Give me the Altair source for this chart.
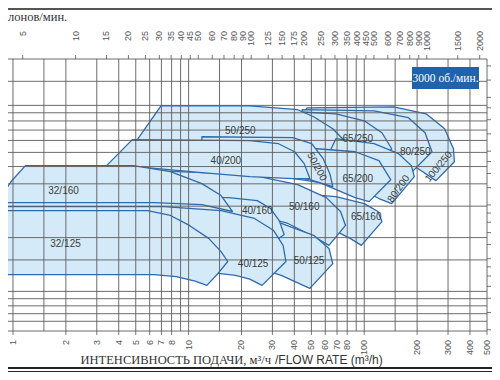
import altair as alt
import pandas as pd

# ---------------- axis values ----------------
FLOW_LABELS = [1, 2, 3, 4, 5, 6, 7, 8, 10, 20, 30, 40, 50, 60, 70, 80, 100, 200, 300, 400, 500]
FLOW_GRID = [1, 1.5, 2, 3, 4, 5, 6, 7, 8, 9, 10, 15, 20, 30, 40, 50, 60, 70, 80, 90, 100, 150, 200, 300, 400, 500]
GPM_LABELS = [5, 10, 15, 20, 25, 30, 35, 40, 45, 50, 60, 70, 80, 90, 100, 125, 150, 175, 200, 250,
              300, 350, 400, 450, 500, 600, 700, 800, 900, 1000, 1500, 2000]
HEAD_GRID = [6, 6.8, 7.5, 8.3, 9.1, 10, 15, 20, 30, 40, 50, 60, 70, 80, 90, 100, 110, 150, 200]
FEET_TICKS = [20, 25, 30, 35, 40, 45, 50, 60, 70, 80, 90, 100, 125, 150, 175, 200, 250, 300, 350, 400, 500, 600]
GPM_PER_M3H = 4.403
M_PER_FT = 0.3048

# ---------------- pump regions (flow m3/h, head m) ----------------
Q = {
    "100/250": [41.8, 47.3, 147.1, 225, 287, 322, 326, 256, 203, 156.8, 113.7, 69.0],
    "80/250": [41.8, 44.4, 113.7, 178.4, 222, 243, 187.8, 147.1, 106.6, 69.0],
    "65/250": [39.1, 41.8, 69.0, 100, 126.1, 143.3, 116.7, 88.6, 60.8],
    "50/250": [4.38, 5.15, 6.96, 22.3, 41.8, 51.5, 66.2, 80.1, 67.0, 41.8, 22.3, 5.15],
    "80/200": [60.8, 69.0, 113.7, 156.8, 185.4, 192.8, 143.3, 121.3, 94.0, 69.0],
    "65/200": [22.3, 25.3, 53.7, 88.6, 121.3, 141.5, 106.6, 88.6, 55.8, 33.7],
    "50/200": [11.9, 11.9, 39.1, 50.2, 58.4, 63.7, 66.2, 49.0, 39.1],
    "65/160": [41.8, 41.8, 69.0, 100, 119.7, 126.1, 96.3, 83.1, 60.8],
    "50/160": [6.38, 6.38, 22.3, 41.8, 60.8, 73.3, 78.2, 63.0, 53.7, 36.8, 22.3, 11.9],
    "40/200": [3.41, 4.78, 22.3, 32.5, 40.1, 45.5, 49.0, 39.1, 22.3, 11.9, 4.96],
    "50/125": [19.7, 19.7, 33.7, 51.5, 63.0, 66.2, 49.0, 33.7, 22.3],
    "40/160": [0.916, 0.916, 16.9, 24.6, 29.3, 32.8, 35.0, 26.2, 20.9, 6.38],
    "40/125": [0.916, 0.916, 7.23, 15.3, 23.7, 30.5, 34.5, 35.8, 26.2, 22.3, 18.5, 14.7],
    "32/160": [0.916, 0.975, 1.177, 4.84, 7.88, 11.9, 15.3, 17.8, 11.9, 6.38, 0.916],
    "32/125": [0.916, 5.84, 7.88, 10.1, 13.0, 15.3, 16.7, 14.7, 12.7, 10.9, 8.5, 6.38, 0.916],
}
H = {
    "100/250": [86.8, 106.6, 108.0, 98.7, 81.4, 62.9, 53.2, 41.7, 48.6, 55.3, 62.9, 76.3],
    "80/250": [83.5, 104.0, 102.6, 93.8, 77.3, 60.5, 46.8, 51.9, 59.0, 71.6],
    "65/250": [81.4, 101.3, 98.7, 90.2, 77.3, 62.9, 48.6, 55.3, 62.9],
    "50/250": [55.3, 71.6, 109.4, 109.4, 104.0, 95.0, 81.4, 67.1, 56.8, 56.8, 59.0, 62.9],
    "80/200": [55.3, 71.6, 67.1, 59.0, 50.6, 43.9, 31.0, 33.1, 37.6, 45.6],
    "65/200": [45.0, 62.9, 62.9, 60.5, 53.9, 42.2, 31.8, 33.5, 40.6, 43.9],
    "50/200": [45.0, 73.4, 72.5, 67.1, 55.3, 45.6, 38.6, 42.2, 43.9],
    "65/160": [25.6, 35.3, 33.9, 31.0, 28.0, 24.6, 18.1, 19.8, 23.1],
    "50/160": [28.3, 47.4, 45.0, 39.6, 33.5, 28.0, 23.4, 18.1, 19.8, 24.0, 27.3, 28.3],
    "40/200": [50.6, 70.7, 69.8, 67.1, 60.5, 51.9, 42.8, 42.8, 43.9, 46.2, 49.9],
    "50/125": [17.4, 24.6, 24.0, 20.6, 17.4, 14.3, 10.4, 12.3, 14.0],
    "40/160": [18.5, 33.5, 33.5, 32.2, 29.1, 24.9, 20.8, 16.9, 18.5, 18.5],
    "40/125": [13.4, 29.8, 29.8, 28.3, 25.6, 21.9, 18.1, 14.7, 10.8, 11.7, 12.3, 12.6],
    "32/160": [37.6, 41.2, 50.6, 50.6, 46.8, 40.1, 34.4, 28.0, 30.6, 31.4, 31.4],
    "32/125": [28.3, 28.3, 26.6, 23.4, 19.8, 16.7, 14.7, 12.6, 10.8, 11.4, 12.1, 12.4, 12.4],
}
# back to front
DRAW_ORDER = ["100/250", "80/250", "65/250", "50/250", "80/200", "65/200", "50/200", "65/160",
              "50/160", "40/200", "50/125", "40/160", "40/125", "32/160", "32/125"]

LABEL_TEXT = ["32/160", "32/125", "40/200", "50/250", "65/250", "80/250", "100/250", "50/200",
              "65/200", "80/200", "65/160", "50/160", "40/160", "40/125", "50/125"]
LABEL_Q = [1.94, 1.99, 16.3, 19.7, 91.9, 195.3, 265, 53.7, 91.9, 157, 102.6, 45.5, 24.6, 23.3, 48.5]
LABEL_H = [36.7, 18.3, 53.9, 79.3, 71.6, 60.5, 49.9, 49.9, 42.8, 37.6, 26.2, 29.8, 28.3, 14.3, 14.7]
LABEL_ANGLE = [0, 0, 0, 0, 0, 0, 310, 62, 0, 305, 0, 0, 0, 0, 0]

# ---------------- styling ----------------
PW, PH = 479, 272
FILL = "#d4eaf8"
STROKE = "#2d6bb0"
GRID = "#5c5c5c"
AX = "#555"
SANS = "Liberation Sans"
SERIF = "Liberation Serif"

xs = alt.Scale(type="log", domain=[0.9366, 500], nice=False)
ys = alt.Scale(type="log", domain=[6, 200], nice=False)
X = lambda f: alt.X(f, scale=xs, axis=None)
Y = lambda f: alt.Y(f, scale=ys, axis=None)

rows = []
for name in DRAW_ORDER:
    qs, hs = Q[name], H[name]
    pts = list(zip(qs, hs)) + [(qs[0], hs[0])]
    for i, (q, h) in enumerate(pts):
        rows.append({"name": name, "i": i, "q": q, "h": h})
shape_df = pd.DataFrame(rows)

layers = []
for name in DRAW_ORDER:
    layers.append(
        alt.Chart(shape_df)
        .transform_filter(alt.datum.name == name)
        .mark_line(fill=FILL, stroke=STROKE, strokeWidth=1.3, clip=True, strokeJoin="round")
        .encode(x=X("q:Q"), y=Y("h:Q"), order=alt.Order("i:Q"))
    )

vgrid = alt.Chart(pd.DataFrame({"q": FLOW_GRID})).mark_rule(color=GRID, strokeWidth=0.9).encode(
    x=X("q:Q"), y=alt.value(0), y2=alt.value(PH)
)
hgrid = alt.Chart(pd.DataFrame({"h": HEAD_GRID})).mark_rule(color=GRID, strokeWidth=0.9).encode(
    y=Y("h:Q"), x=alt.value(0), x2=alt.value(PW)
)

flow_df = pd.DataFrame({"q": FLOW_LABELS})
bot_ticks = alt.Chart(flow_df).mark_rule(color=AX, strokeWidth=0.8).encode(
    x=X("q:Q"), y=alt.value(PH), y2=alt.value(PH + 4)
)
bot_labels = alt.Chart(flow_df).mark_text(
    angle=270, align="right", baseline="middle", font=SANS, fontSize=9, color=AX
).encode(x=X("q:Q"), y=alt.value(PH + 9), text="q:N")

gpm_df = pd.DataFrame({"gpm": GPM_LABELS})
top_ticks = alt.Chart(gpm_df).transform_calculate(q=f"datum.gpm / {GPM_PER_M3H}").mark_rule(
    color=AX, strokeWidth=0.8
).encode(x=X("q:Q"), y=alt.value(-4), y2=alt.value(0))
top_labels = alt.Chart(gpm_df).transform_calculate(q=f"datum.gpm / {GPM_PER_M3H}").mark_text(
    angle=270, align="right", baseline="middle", font=SANS, fontSize=9, color=AX
).encode(x=X("q:Q"), y=alt.value(-28), text="gpm:N")

ft_df = pd.DataFrame({"ft": FEET_TICKS})
right_ticks = alt.Chart(ft_df).transform_calculate(h=f"datum.ft * {M_PER_FT}").mark_rule(
    color=AX, strokeWidth=0.8
).encode(y=Y("h:Q"), x=alt.value(PW), x2=alt.value(PW + 4))

lab_df = pd.DataFrame({"t": LABEL_TEXT, "q": LABEL_Q, "h": LABEL_H, "a": LABEL_ANGLE})
labels = alt.Chart(lab_df).mark_text(font=SANS, fontSize=10, color="#3a3a3a").encode(
    x=X("q:Q"), y=Y("h:Q"), text="t:N", angle=alt.Angle("a:Q", scale=None)
)

one = pd.DataFrame({"t": ["x"]})
box = alt.Chart(one).mark_rect(color="#1f62ad").encode(
    x=alt.value(404), x2=alt.value(471), y=alt.value(8), y2=alt.value(30)
)
box_text = alt.Chart(pd.DataFrame({"t": ["3000 об./мин."]})).mark_text(
    font=SERIF, fontSize=11.5, color="white"
).encode(x=alt.value(437.5), y=alt.value(19.5), text="t:N")

top_title = alt.Chart(pd.DataFrame({"t": ["лонов/мин."]})).mark_text(
    font=SERIF, fontSize=12.5, color="#333", align="left", baseline="middle"
).encode(x=alt.value(0), y=alt.value(-42), text="t:N")

xt1 = alt.Chart(pd.DataFrame({"t": ["ИНТЕНСИВНОСТЬ ПОДАЧИ, м³/ч"]})).mark_text(
    font=SERIF, fontSize=12.5, color="#333", align="right", baseline="alphabetic"
).encode(x=alt.value(263), y=alt.value(305), text="t:N")
xt2 = alt.Chart(pd.DataFrame({"t": ["/FLOW RATE (m³/h)"]})).mark_text(
    font=SANS, fontSize=12, color="#333", align="left", baseline="alphabetic"
).encode(x=alt.value(267), y=alt.value(305), text="t:N")

top_border = alt.Chart(one).mark_rule(color="#555", strokeWidth=2).encode(
    x=alt.value(-10), x2=alt.value(PW + 10), y=alt.value(-50)
)
bot_border1 = alt.Chart(one).mark_rule(color="#222", strokeWidth=2).encode(
    x=alt.value(-10), x2=alt.value(PW + 10), y=alt.value(309)
)
bot_border2 = alt.Chart(one).mark_rule(color="#222", strokeWidth=1).encode(
    x=alt.value(-10), x2=alt.value(PW + 10), y=alt.value(312.5)
)

chart = alt.layer(
    *layers, vgrid, hgrid, bot_ticks, bot_labels, top_ticks, top_labels, right_ticks, labels,
    box, box_text, top_title, xt1, xt2, top_border, bot_border1, bot_border2,
).properties(
    width=PW, height=PH,
    padding={"left": 0, "top": 51, "right": 5, "bottom": 41},
    autosize=alt.AutoSizeParams(type="none"),
).configure_view(stroke=None)

chart.save("out.html", embed_options={"renderer": "svg", "actions": False})
